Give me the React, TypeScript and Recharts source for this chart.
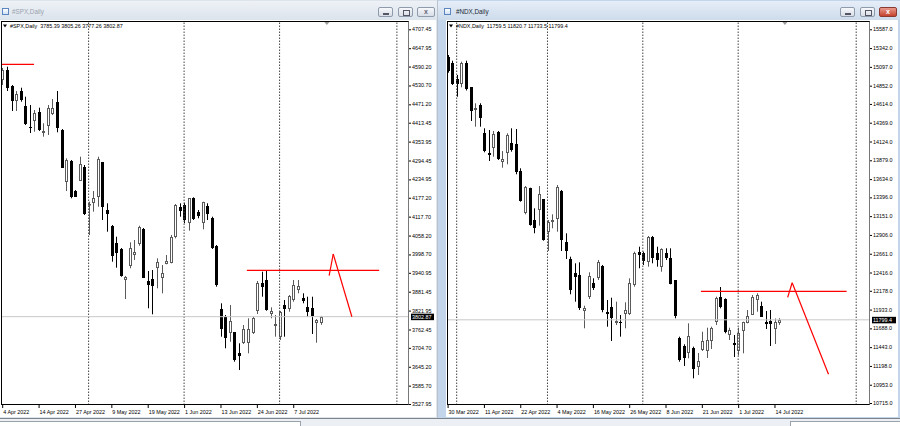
import { ComposedChart, Bar, XAxis, YAxis, ReferenceLine, ReferenceDot } from 'recharts';

const FONT = '"Liberation Sans", Arial, sans-serif';

// #SPX daily, 4 Apr 2022 .. 15 Jul 2022
const spxOpen = [
  4547.9, 4579.3, 4529.9, 4479.5, 4514.2, 4467.0, 4400.9, 4418.8, 4448.1, 4380.1,
  4404.0, 4443.0, 4477.7, 4390.5, 4225.8, 4292.9, 4199.4, 4230.9, 4273.0, 4154.4,
  4159.7, 4180.5, 4288.8, 4138.6, 4088.3, 4033.8, 4015.8, 3918.3, 3963.3, 3994.8,
  4030.6, 4078.8, 3916.1, 3921.4, 3955.1, 3923.6, 3968.6, 3972.7, 4054.6, 4147.1,
  4154.4, 4096.8, 4175.5, 4133.3, 4096.8, 4151.2, 4112.5, 4025.3, 3826.0, 3800.8,
  3752.4, 3753.6, 3687.5, 3719.0, 3719.0, 3752.4, 3818.5, 3907.9, 3918.3, 3813.4,
  3771.2, 3739.8, 3839.6, 3827.0, 3855.3, 3886.8, 3862.5, 3834.2, 3831.1, 3783.8,
  3785.39,
];
const spxHigh = [
  4585.6, 4589.7, 4532.0, 4513.2, 4523.6, 4495.3, 4469.2, 4453.4, 4460.7, 4411.6,
  4469.2, 4488.0, 4513.2, 4393.6, 4301.4, 4296.0, 4201.6, 4306.4, 4280.3, 4164.8,
  4198.4, 4306.4, 4289.7, 4159.7, 4091.4, 4054.6, 4019.0, 3930.8, 4036.9, 4044.2,
  4089.2, 4082.0, 3946.6, 3949.7, 3986.6, 3965.5, 3997.0, 4059.9, 4157.5, 4159.7,
  4161.6, 4176.4, 4178.6, 4138.6, 4164.8, 4159.7, 4117.5, 4028.5, 3844.9, 3808.1,
  3839.6, 3754.6, 3719.0, 3776.6, 3797.7, 3802.8, 3915.1, 3944.4, 3949.7, 3832.3,
  3808.1, 3820.7, 3855.3, 3871.0, 3918.3, 3918.3, 3876.4, 3865.7, 3865.7, 3795.5,
  3805.26,
];
const spxLow = [
  4532.1, 4513.2, 4450.3, 4450.3, 4479.5, 4406.2, 4381.0, 4385.1, 4387.3, 4369.4,
  4374.7, 4437.7, 4383.2, 4270.8, 4198.4, 4175.5, 4179.5, 4229.9, 4122.9, 4059.9,
  4133.3, 4149.0, 4107.1, 4070.3, 3975.9, 3957.0, 3928.7, 3858.4, 3955.1, 3981.2,
  4026.2, 3924.6, 3829.2, 3810.3, 3892.1, 3876.4, 3967.7, 3970.8, 4049.5, 4117.5,
  4096.8, 4073.5, 4107.1, 4112.5, 4077.9, 4107.1, 4015.8, 3897.2, 3739.8, 3703.3,
  3724.0, 3661.1, 3634.9, 3716.8, 3687.5, 3748.3, 3811.2, 3865.7, 3821.6, 3797.7,
  3739.8, 3729.4, 3739.8, 3818.5, 3849.9, 3876.4, 3845.0, 3802.7, 3748.3, 3720.9,
  3777.26,
];
const spxClose = [
  4579.3, 4521.7, 4481.7, 4502.8, 4484.9, 4409.3, 4400.0, 4443.0, 4390.5, 4387.3,
  4460.7, 4460.7, 4395.8, 4271.8, 4296.0, 4180.5, 4180.5, 4283.4, 4126.0, 4156.0,
  4175.5, 4299.2, 4145.9, 4125.1, 3993.8, 4002.3, 3931.8, 3928.7, 4019.9, 4005.5,
  4084.2, 3925.5, 3902.5, 3900.3, 3974.0, 3939.4, 3978.1, 4054.6, 4154.4, 4133.3,
  4107.1, 4175.5, 4109.3, 4119.7, 4162.9, 4126.0, 4018.0, 3902.5, 3763.1, 3734.7,
  3789.2, 3666.4, 3676.8, 3763.1, 3763.1, 3799.6, 3907.9, 3895.3, 3823.8, 3821.6,
  3778.8, 3818.5, 3827.0, 3867.9, 3902.5, 3900.3, 3852.2, 3818.5, 3805.0, 3792.3,
  3802.87,
];
const spxDateIdx = [0, 8, 16, 24, 32, 40, 48, 56, 64];
const spxDates = ['4 Apr 2022', '14 Apr 2022', '27 Apr 2022', '9 May 2022', '19 May 2022', '1 Jun 2022', '13 Jun 2022', '24 Jun 2022', '7 Jul 2022'];
const spxPriceTicks = [
  4707.45, 4647.95, 4590.2, 4530.7, 4471.2, 4413.45, 4353.95, 4294.45, 4234.95, 4177.2,
  4117.7, 4058.2, 3998.7, 3940.95, 3881.45, 3821.95, 3762.45, 3704.7, 3645.2, 3585.7, 3527.95,
];
const spxMonthSeps = [19, 40, 61, 86.8];

// #NDX daily, 30 Mar 2022 .. 15 Jul 2022
const ndxOpen = [
  15229.8, 15143.8, 14939.1, 14883.0, 15143.8, 14830.9, 14534.9, 14600.1, 14231.2, 13978.3,
  14043.4, 14244.2, 13853.1, 13970.4, 14100.8, 14087.7, 13739.7, 13201.2, 13514.1, 13096.9,
  13222.2, 13370.7, 12948.3, 13078.7, 13113.9, 13479.0, 12818.0, 12592.4, 12405.9, 12383.8,
  11914.5, 12100.9, 12283.4, 12340.8, 12505.1, 11897.8, 11970.6, 11767.2, 11775.1, 11871.7,
  11871.7, 12253.5, 12687.7, 12666.8, 12557.2, 12883.2, 12666.8, 12492.1, 12666.8, 12609.4,
  12318.6, 11558.7, 11458.2, 11367.0, 11428.1, 11188.4, 11406.0, 11393.0, 11523.4, 11775.1,
  12097.0, 12070.9, 11601.6, 11493.4, 11393.0, 11644.6, 11767.2, 11871.7, 12057.9, 11983.7,
  11775.1, 11784.1, 11679.9, 11759.5,
];
const ndxHigh = [
  15252.0, 15177.7, 14991.2, 15164.6, 15177.7, 14834.8, 14622.3, 14622.3, 14296.4, 14274.2,
  14261.2, 14261.2, 13999.4, 14231.2, 14296.4, 14287.2, 13774.8, 13544.1, 13521.9, 13253.4,
  13544.1, 13374.6, 13100.9, 13175.1, 13557.2, 13492.0, 12927.4, 12622.5, 12536.3, 12549.4,
  11983.7, 12419.0, 12340.8, 12579.4, 12514.2, 12057.9, 12087.9, 12035.8, 11862.5, 12028.0,
  12340.8, 12687.7, 12752.8, 12687.7, 12892.3, 12892.3, 12752.8, 12731.9, 12731.9, 12731.9,
  12318.6, 11579.6, 11480.4, 11754.1, 11449.1, 11367.0, 11644.6, 11696.8, 11709.8, 12100.9,
  12227.4, 12080.0, 11696.8, 11601.6, 11696.8, 11775.1, 11927.7, 12123.1, 12145.2, 12035.8,
  11914.5, 11927.7, 11816.7, 11820.7,
];
const ndxLow = [
  15021.2, 14860.9, 14708.3, 14830.9, 14789.2, 14391.5, 14317.2, 14317.2, 13983.5, 13870.0,
  13926.2, 13883.1, 13782.7, 13827.0, 13991.3, 13696.7, 13339.4, 13175.1, 13026.5, 12927.4,
  13026.5, 12831.0, 12696.7, 12992.6, 12948.3, 12696.7, 12592.4, 12132.2, 12035.8, 11927.7,
  11688.9, 12070.9, 12188.3, 12318.6, 11897.8, 11709.8, 11523.4, 11732.0, 11579.6, 11688.9,
  11862.5, 12231.3, 12471.1, 12514.2, 12492.1, 12536.3, 12492.1, 12426.9, 12579.4, 12262.6,
  11819.2, 11253.5, 11197.5, 11297.8, 11037.1, 11080.1, 11393.0, 11301.7, 11419.1, 11732.0,
  11949.6, 11623.8, 11536.4, 11314.8, 11334.4, 11363.0, 11754.1, 11862.5, 11905.3, 11840.3,
  11679.9, 11458.2, 11484.3, 11733.5,
];
const ndxClose = [
  15047.3, 14873.9, 14870.0, 15151.6, 14804.8, 14512.8, 14557.1, 14434.5, 13991.3, 13948.3,
  14222.0, 13896.1, 13892.0, 14209.0, 14004.3, 13722.8, 13352.4, 13535.0, 13035.7, 12992.6,
  13435.9, 12840.1, 13078.7, 13100.9, 13535.0, 12840.1, 12696.7, 12188.3, 12348.6, 11949.6,
  11949.6, 12374.6, 12223.4, 12549.4, 11927.7, 11871.7, 11827.1, 11788.1, 11758.1, 11927.7,
  12275.6, 12666.8, 12644.6, 12566.4, 12883.2, 12605.5, 12579.4, 12722.8, 12601.6, 12275.6,
  11853.3, 11275.7, 11305.7, 11589.0, 11158.4, 11262.6, 11523.4, 11535.6, 11696.8, 12087.9,
  11970.6, 11644.6, 11666.8, 11471.3, 11627.7, 11767.2, 11853.3, 12100.9, 12123.1, 11840.3,
  11745.0, 11745.0, 11771.1, 11799.4,
];
const ndxDateIdx = [0, 8, 16, 24, 32, 40, 48, 56, 64, 72];
const ndxDates = ['30 Mar 2022', '11 Apr 2022', '22 Apr 2022', '4 May 2022', '16 May 2022', '26 May 2022', '8 Jun 2022', '21 Jun 2022', '1 Jul 2022', '14 Jul 2022'];
const ndxPriceTicks = [
  15587.0, 15342.0, 15097.0, 14852.0, 14614.0, 14369.0, 14124.0, 13879.0, 13634.0, 13396.0,
  13151.0, 12906.0, 12661.0, 12416.0, 12178.0, 11933.0, 11688.0, 11443.0, 11198.0, 10953.0, 10715.0,
];
const ndxMonthSeps = [2, 22, 43, 64, 90];

// red drawings (bar index, price)
const spxLevels = [
  [{ x: -0.2, y: 4597.3 }, { x: 7.0, y: 4597.3 }],
  [{ x: 53.8, y: 3948.8 }, { x: 82.9, y: 3948.8 }],
];
const spxPath = [
  { x: 71.9, y: 3931.8 },
  { x: 72.8, y: 4000.1 },
  { x: 76.9, y: 3802.7 },
];
const ndxLevels = [[{ x: 55.8, y: 12171.0 }, { x: 87.9, y: 12171.0 }]];
const ndxPath = [
  { x: 74.9, y: 12093.0 },
  { x: 75.9, y: 12283.0 },
  { x: 83.9, y: 11089.0 },
];

function buildRows(o: number[], h: number[], l: number[], c: number[]) {
  return o.map((v, i) => ({ i, open: v, high: h[i], low: l[i], close: c[i], range: [l[i], h[i]] }));
}

function Candle(props: any) {
  const { x, y, width, height, payload } = props;
  if (!payload) return null;
  const { open, high, low, close } = payload;
  const top = height < 0 ? y + height : y;
  const h = Math.abs(height);
  const k = high > low ? h / (high - low) : 0;
  const cx = Math.round(x + width / 2);
  const yo = top + (high - open) * k;
  const yc = top + (high - close) * k;
  const bTop = Math.round(Math.min(yo, yc));
  const bH = Math.max(1, Math.round(Math.abs(yo - yc)));
  const bull = close >= open;
  const ink = bull ? '#5a5a5a' : '#000';
  return (
    <g>
      <line x1={cx + 0.5} x2={cx + 0.5} y1={top} y2={top + h} stroke={ink} strokeWidth={1} />
      {bull ? (
        <rect x={cx - 0.5} y={bTop + 0.5} width={2} height={Math.max(bH - 1, 0.5)} fill="#fff" stroke={ink} strokeWidth={1} />
      ) : (
        <rect x={cx - 1} y={bTop} width={3} height={bH} fill="#000" />
      )}
    </g>
  );
}

function DateTick(props: any) {
  const { x, y, payload, idx, labels } = props;
  const label = labels[idx.indexOf(payload.value)];
  return (
    <g>
      <line x1={x + 0.5} x2={x + 0.5} y1={y} y2={y + 3} stroke="#000" />
      <text x={x + 1} y={y + 8.5} fontSize={5.4} fontFamily={FONT} fill="#000">
        {label}
      </text>
    </g>
  );
}

function PriceTick(props: any) {
  const { x, y, payload, digits } = props;
  return (
    <g>
      <line x1={x} x2={x + 2} y1={y + 0.5} y2={y + 0.5} stroke="#000" />
      <text x={x + 3} y={y + 2} fontSize={5.4} fontFamily={FONT} fill="#000">
        {Number(payload.value).toFixed(digits)}
      </text>
    </g>
  );
}

function PriceTag(props: any) {
  const { cx, cy, text, w } = props;
  return (
    <g>
      <rect x={cx + 2} y={cy - 3} width={w} height={6.5} fill="#000" />
      <text x={cx + 3} y={cy + 2} fontSize={5.4} fontFamily={FONT} fill="#fff">
        {text}
      </text>
    </g>
  );
}

function ShiftMark(props: any) {
  const { cx, cy } = props;
  return <path d={`M${cx - 2.5},${cy + 1} L${cx + 2.5},${cy + 1} L${cx},${cy + 4} Z`} fill="#9a9a9a" />;
}

type PaneProps = {
  rows: any[];
  xDomain: [number, number];
  yDomain: [number, number];
  width: number;
  yAxisWidth: number;
  dateIdx: number[];
  dates: string[];
  priceTicks: number[];
  digits: number;
  seps: number[];
  last: number;
  levels: { x: number; y: number }[][];
  path: { x: number; y: number }[];
  shiftAt: number;
};

function Pane(p: PaneProps) {
  const legs = p.path.slice(1).map((pt, k) => [p.path[k], pt]);
  return (
    <ComposedChart width={p.width} height={397} data={p.rows} margin={{ top: 1, right: 0, bottom: 0, left: 1 }}>
      <XAxis
        type="number"
        dataKey="i"
        domain={p.xDomain}
        allowDataOverflow
        ticks={p.dateIdx}
        interval={0}
        height={12}
        axisLine={false}
        tickLine={false}
        tickSize={0}
        tickMargin={0}
        tick={<DateTick idx={p.dateIdx} labels={p.dates} />}
      />
      <YAxis
        orientation="right"
        type="number"
        domain={p.yDomain}
        allowDataOverflow
        ticks={p.priceTicks}
        interval={0}
        width={p.yAxisWidth}
        axisLine={false}
        tickLine={false}
        tickSize={0}
        tickMargin={0}
        tick={<PriceTick digits={p.digits} />}
      />
      {p.seps.map((s) => (
        <ReferenceLine key={s} x={s} stroke="#444" strokeDasharray="1.5 1.5" />
      ))}
      <ReferenceLine y={p.last} stroke="#c8c8c8" />
      <Bar dataKey="range" barSize={3} isAnimationActive={false} shape={(sp: any) => <Candle {...sp} />} />
      {p.levels.map((seg, k) => (
        <ReferenceLine key={'l' + k} segment={seg} stroke="#ff0000" strokeWidth={1.2} ifOverflow="visible" />
      ))}
      {legs.map((seg, k) => (
        <ReferenceLine key={'z' + k} segment={seg} stroke="#ff0000" strokeWidth={1.2} ifOverflow="visible" />
      ))}
      <ReferenceDot
        x={p.xDomain[1]}
        y={p.last}
        ifOverflow="visible"
        shape={(sp: any) => <PriceTag {...sp} text={p.last.toFixed(p.digits)} w={p.yAxisWidth - 4} />}
      />
      <ReferenceDot x={p.shiftAt} y={p.yDomain[1]} ifOverflow="visible" shape={(sp: any) => <ShiftMark {...sp} />} />
    </ComposedChart>
  );
}

function Buttons({ left, active }: { left: number; active: boolean }) {
  const base = {
    position: 'absolute' as const,
    top: 7,
    width: 15,
    height: 10,
    boxSizing: 'border-box' as const,
    border: '1px solid #8f9bab',
    borderRadius: 2,
    background: 'linear-gradient(#f6f8fb, #d8dee7)',
  };
  return (
    <>
      <div style={{ ...base, left }}>
        <div style={{ position: 'absolute', left: 4, top: 5, width: 6, height: 1.5, background: '#556' }} />
      </div>
      <div style={{ ...base, left: left + 20 }}>
        <div style={{ position: 'absolute', left: 4, top: 2, width: 5, height: 4, border: '1px solid #556' }} />
      </div>
      <div
        style={{
          ...base,
          left: left + 39,
          width: 18,
          background: active ? 'linear-gradient(#e99a8e, #c4432f)' : base.background,
          border: active ? '1px solid #8a3a30' : base.border,
          color: active ? '#fff' : '#667',
          fontSize: 7,
          lineHeight: '8px',
          textAlign: 'center',
          fontFamily: FONT,
          fontWeight: 'bold',
        }}
      >
        x
      </div>
    </>
  );
}

function Header({ left, name, ohlc }: { left: number; name: string; ohlc: string }) {
  return (
    <div style={{ position: 'absolute', left, top: 22, height: 8, display: 'flex', alignItems: 'center', gap: 3 }}>
      <svg width={4} height={4}>
        <path d="M0,0.5 L4,0.5 L2,3.5 Z" fill="#000" />
      </svg>
      <span style={{ fontSize: 5.4, fontFamily: FONT, color: '#000', whiteSpace: 'pre' }}>
        {name}  {ohlc}
      </span>
    </div>
  );
}

function TitleIcon({ left }: { left: number }) {
  return (
    <div
      style={{
        position: 'absolute',
        left,
        top: 8,
        width: 7,
        height: 7,
        boxSizing: 'border-box',
        border: '1px solid #5c86c0',
        background: 'linear-gradient(#fff, #cfe0f4)',
      }}
    />
  );
}

export default function App() {
  const spxRows = buildRows(spxOpen, spxHigh, spxLow, spxClose);
  const ndxRows = buildRows(ndxOpen, ndxHigh, ndxLow, ndxClose);
  const spxLast = spxClose[spxClose.length - 1];
  const ndxLast = ndxClose[ndxClose.length - 1];

  return (
    <div style={{ position: 'fixed', left: 0, top: 0, width: 900, height: 426, overflow: 'hidden', background: '#cfd6df', fontFamily: FONT }}>
      {/* left window (inactive) */}
      <div style={{ position: 'absolute', left: 0, top: 0, width: 437, height: 418, background: '#dde4ec', borderRight: '1px solid #b9c2cd' }} />
      <div style={{ position: 'absolute', left: 0, top: 1, width: 437, height: 19, background: 'linear-gradient(#eef2f7, #dbe3ec)' }} />
      <TitleIcon left={2} />
      <div style={{ position: 'absolute', left: 12, top: 8, fontSize: 6.3, color: '#9aa3ad' }}>#SPX,Daily</div>
      <Buttons left={378} active={false} />
      <div style={{ position: 'absolute', left: 0, top: 20, width: 436, height: 397, background: '#fff' }} />
      <div style={{ position: 'absolute', left: 0, top: 20 }}>
        <Pane
          rows={spxRows}
          xDomain={[-0.264, 89.46]}
          yDomain={[3524.8, 4733.6]}
          width={436}
          yAxisWidth={27}
          dateIdx={spxDateIdx}
          dates={spxDates}
          priceTicks={spxPriceTicks}
          digits={2}
          seps={spxMonthSeps}
          last={spxLast}
          levels={spxLevels}
          path={spxPath}
          shiftAt={71.4}
        />
      </div>
      <div style={{ position: 'absolute', left: 1, top: 21, width: 408, height: 384, boxSizing: 'border-box', border: '1px solid #000', borderRightColor: '#777', pointerEvents: 'none' }} />
      <Header left={3} name="#SPX,Daily" ohlc="3785.39 3805.26 3777.26 3802.87" />

      {/* right window (active) */}
      <div style={{ position: 'absolute', left: 438, top: 0, width: 462, height: 418, background: '#c3d5ea' }} />
      <div style={{ position: 'absolute', left: 438, top: 1, width: 462, height: 19, background: 'linear-gradient(#e6eef8, #cddbeb)' }} />
      <TitleIcon left={444} />
      <div style={{ position: 'absolute', left: 456, top: 8, fontSize: 6.3, color: '#1e2a38' }}>#NDX,Daily</div>
      <Buttons left={840} active={true} />
      <div style={{ position: 'absolute', left: 446, top: 20, width: 452, height: 397, background: '#fff' }} />
      <div style={{ position: 'absolute', left: 446, top: 20 }}>
        <Pane
          rows={ndxRows}
          xDomain={[-0.132, 93.04]}
          yDomain={[10689.0, 15695.2]}
          width={452}
          yAxisWidth={28}
          dateIdx={ndxDateIdx}
          dates={ndxDates}
          priceTicks={ndxPriceTicks}
          digits={1}
          seps={ndxMonthSeps}
          last={ndxLast}
          levels={ndxLevels}
          path={ndxPath}
          shiftAt={74.3}
        />
      </div>
      <div style={{ position: 'absolute', left: 447, top: 21, width: 423, height: 384, boxSizing: 'border-box', border: '1px solid #000', borderRightColor: '#777', pointerEvents: 'none' }} />
      <Header left={449} name="#NDX,Daily" ohlc="11759.5 11820.7 11733.5 11799.4" />

      {/* bottom tab strip */}
      <div style={{ position: 'absolute', left: 0, top: 418, width: 900, height: 8, background: '#eceff3', borderTop: '1px solid #7d848c' }} />
      <div style={{ position: 'absolute', left: 0, top: 421, width: 300, height: 5, background: '#fff', borderTop: '1px solid #9aa2ac', borderRight: '1px solid #9aa2ac' }} />
      <div style={{ position: 'absolute', left: 790, top: 421, width: 110, height: 5, background: '#fff', borderTop: '1px solid #9aa2ac', borderLeft: '1px solid #9aa2ac' }} />
    </div>
  );
}
